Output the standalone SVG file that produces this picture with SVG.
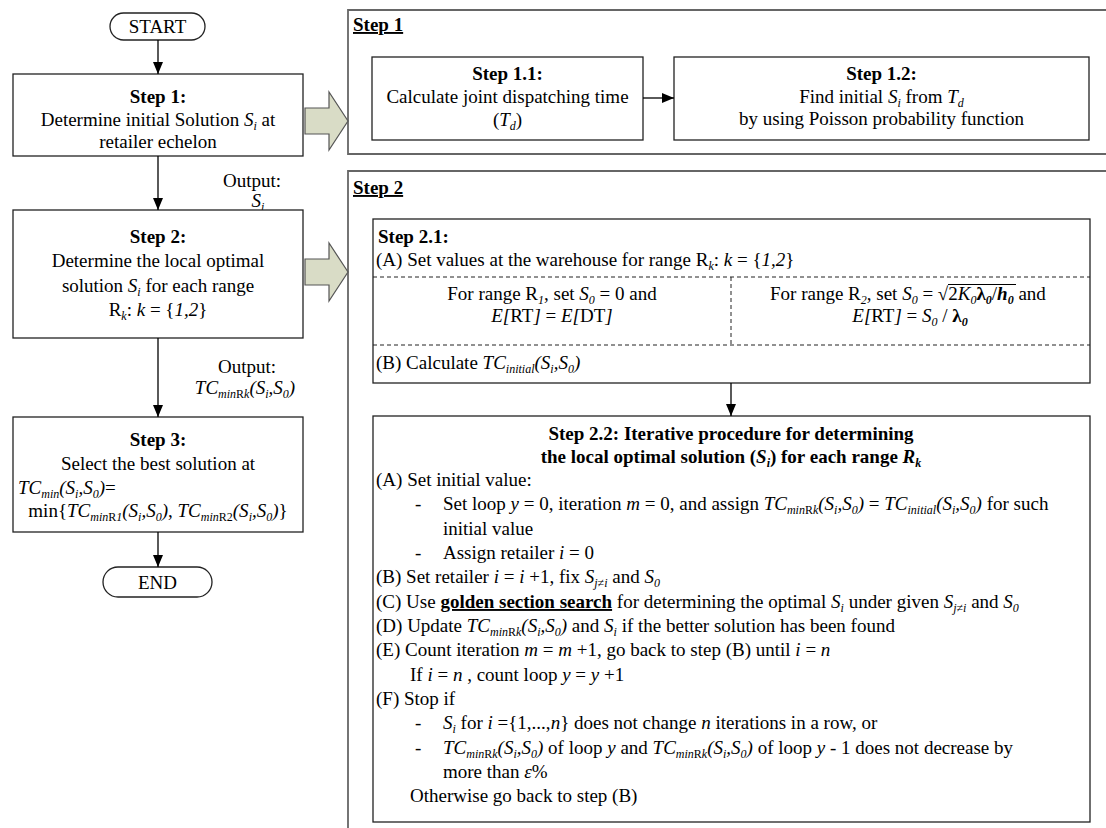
<svg xmlns="http://www.w3.org/2000/svg" width="1106" height="828" viewBox="0 0 1106 828" font-family="'Liberation Serif', 'DejaVu Serif', serif">
<style>
text{font-family:'Liberation Serif','DejaVu Serif',serif;font-size:19px;fill:#000}
.c{text-anchor:middle}
.b{font-weight:bold}
.i{font-style:italic}
.s{font-size:12px}
.u{text-decoration:underline}
.box{fill:#fff;stroke:#222;stroke-width:1.3}
.pnl{fill:none;stroke:#666;stroke-width:1.8}
.dash{stroke:#222;stroke-width:1;stroke-dasharray:4 3;fill:none}
.ln{stroke:#000;stroke-width:1.3;fill:none}
.blk{fill:#d9dcc6;stroke:#555;stroke-width:1.2}
</style>
<defs>
<marker id="ah" viewBox="0 0 12 10" refX="12" refY="5" markerWidth="12" markerHeight="10" markerUnits="userSpaceOnUse" orient="auto"><path d="M0,0 L12,5 L0,10 z" fill="#000"/></marker>
</defs>
<rect width="1106" height="828" fill="#fff"/>

<g id="panel1">
<path class="pnl" d="M1110,10 H348 V154 H1110"/>
<text x="353" y="31" class="b u">Step 1</text>
</g>
<g id="panel2">
<path class="pnl" d="M1110,171 H348 V832"/>
<text x="353" y="194" class="b u">Step 2</text>
</g>

<g id="start">
<rect x="110" y="13" width="95" height="27" rx="13.5" class="box"/>
<text x="157.5" y="33" class="c">START</text>
</g>

<g id="step1">
<rect x="13" y="74" width="290" height="82" class="box"/>
<text x="158" y="103" class="c b">Step 1:</text>
<text x="158" y="126" class="c">Determine initial Solution <tspan class="i">S</tspan><tspan class="s i" dy="4">i</tspan><tspan dy="-4"> at</tspan></text>
<text x="158" y="148" class="c">retailer echelon</text>
</g>

<g id="out1">
<text x="252" y="187" class="c">Output:</text>
<text x="258" y="207" class="c"><tspan class="i">S</tspan><tspan class="s i" dy="4">i</tspan></text>
</g>

<g id="step2">
<rect x="13" y="210" width="290" height="128" class="box"/>
<text x="158" y="243" class="c b">Step 2:</text>
<text x="158" y="267" class="c">Determine the local optimal</text>
<text x="158" y="292" class="c">solution <tspan class="i">S</tspan><tspan class="s i" dy="4">i</tspan><tspan dy="-4"> for each range</tspan></text>
<text x="158" y="316" class="c">R<tspan class="s i" dy="4">k</tspan><tspan dy="-4">: </tspan><tspan class="i">k</tspan> = {<tspan class="i">1,2</tspan>}</text>
</g>

<g id="out2">
<text x="247" y="373" class="c">Output:</text>
<text x="245" y="394" class="c"><tspan class="i">TC</tspan><tspan class="s i" dy="4">min</tspan><tspan class="s">R</tspan><tspan class="s i">k</tspan><tspan class="i" dy="-4">(S</tspan><tspan class="s i" dy="4">i</tspan><tspan class="i" dy="-4">,S</tspan><tspan class="s i" dy="4">0</tspan><tspan class="i" dy="-4">)</tspan></text>
</g>

<g id="step3">
<rect x="13" y="417" width="290" height="115" class="box"/>
<text x="158" y="446" class="c b">Step 3:</text>
<text x="158" y="470" class="c">Select the best solution at</text>
<text x="18" y="494"><tspan class="i">TC</tspan><tspan class="s i" dy="4">min</tspan><tspan class="i" dy="-4">(S</tspan><tspan class="s i" dy="4">i</tspan><tspan class="i" dy="-4">,S</tspan><tspan class="s i" dy="4">0</tspan><tspan class="i" dy="-4">)</tspan>=</text>
<text x="158" y="517" class="c">min{<tspan class="i">TC</tspan><tspan class="s i" dy="4">min</tspan><tspan class="s">R</tspan><tspan class="s i">1</tspan><tspan class="i" dy="-4">(S</tspan><tspan class="s i" dy="4">i</tspan><tspan class="i" dy="-4">,S</tspan><tspan class="s i" dy="4">0</tspan><tspan class="i" dy="-4">)</tspan>, <tspan class="i">TC</tspan><tspan class="s i" dy="4">min</tspan><tspan class="s">R2</tspan><tspan class="i" dy="-4">(S</tspan><tspan class="s i" dy="4">i</tspan><tspan class="i" dy="-4">,S</tspan><tspan class="s i" dy="4">0</tspan><tspan class="i" dy="-4">)</tspan>}</text>
</g>

<g id="end">
<rect x="103" y="567" width="109" height="30" rx="15" class="box"/>
<text x="157.5" y="589" class="c">END</text>
</g>

<g id="step11">
<rect x="372" y="57" width="271" height="83" class="box"/>
<text x="507.5" y="80" class="c b">Step 1.1:</text>
<text x="507.5" y="103" class="c">Calculate joint dispatching time</text>
<text x="507.5" y="126" class="c">(<tspan class="i">T</tspan><tspan class="s i" dy="4">d</tspan><tspan dy="-4">)</tspan></text>
</g>

<g id="step12">
<rect x="674" y="57" width="415" height="83" class="box"/>
<text x="881.5" y="80" class="c b">Step 1.2:</text>
<text x="881.5" y="103" class="c">Find initial <tspan class="i">S</tspan><tspan class="s i" dy="4">i</tspan><tspan dy="-4"> from </tspan><tspan class="i">T</tspan><tspan class="s i" dy="4">d</tspan></text>
<text x="881.5" y="125" class="c">by using Poisson probability function</text>
</g>

<g id="step21">
<rect x="373" y="219" width="717" height="164" class="box"/>
<path class="dash" d="M373,277 H1090 M373,345 H1090 M731,277 V345"/>
<text x="378" y="243" class="b">Step 2.1:</text>
<text x="376" y="266">(A) Set values at the warehouse for range R<tspan class="s i" dy="4">k</tspan><tspan dy="-4">: </tspan><tspan class="i">k</tspan> = {<tspan class="i">1,2</tspan>}</text>
<text x="552" y="300" class="c">For range R<tspan class="s i" dy="4">1</tspan><tspan dy="-4">, set </tspan><tspan class="i">S</tspan><tspan class="s i" dy="4">0</tspan><tspan dy="-4"> = 0 and</tspan></text>
<text x="552" y="322" class="c"><tspan class="i">E[</tspan>RT<tspan class="i">]</tspan> = <tspan class="i">E[</tspan>DT<tspan class="i">]</tspan></text>
<text x="770" y="300">For range R<tspan class="s i" dy="4">2</tspan><tspan dy="-4">, set </tspan><tspan class="i">S</tspan><tspan class="s i" dy="4">0</tspan><tspan dy="-4"> = √2</tspan><tspan class="i">K</tspan><tspan class="s i" dy="4">0</tspan><tspan class="b" dy="-4">λ</tspan><tspan class="s b i" dy="4">0</tspan><tspan dy="-4">/</tspan><tspan class="b i">h</tspan><tspan class="s b i" dy="4">0</tspan><tspan dy="-4"> and</tspan></text>
<path d="M948,284.5 H1016" stroke="#000" stroke-width="1"/>
<text x="910" y="322" class="c"><tspan class="i">E[</tspan>RT<tspan class="i">]</tspan> = <tspan class="i">S</tspan><tspan class="s i" dy="4">0</tspan><tspan dy="-4"> / </tspan><tspan class="b">λ</tspan><tspan class="s b i" dy="4">0</tspan></text>
<text x="376" y="369">(B) Calculate <tspan class="i">TC</tspan><tspan class="s i" dy="4">initial</tspan><tspan class="i" dy="-4">(S</tspan><tspan class="s i" dy="4">i</tspan><tspan class="i" dy="-4">,S</tspan><tspan class="s i" dy="4">0</tspan><tspan class="i" dy="-4">)</tspan></text>
</g>

<g id="step22">
<rect x="373" y="416" width="717" height="406" class="box"/>
<text x="731" y="440" class="c b">Step 2.2: Iterative procedure for determining</text>
<text x="731" y="463" class="c b">the local optimal solution (<tspan class="i">S</tspan><tspan class="s i" dy="4">i</tspan><tspan dy="-4">) for each range </tspan><tspan class="i">R</tspan><tspan class="s i" dy="4">k</tspan></text>
<text x="376" y="486">(A) Set initial value:</text>
<text x="415" y="510">-</text>
<text x="443" y="510">Set loop <tspan class="i">y</tspan> = 0, iteration <tspan class="i">m</tspan> = 0, and assign <tspan class="i">TC</tspan><tspan class="s i" dy="4">min</tspan><tspan class="s">R</tspan><tspan class="s i">k</tspan><tspan class="i" dy="-4">(S</tspan><tspan class="s i" dy="4">i</tspan><tspan class="i" dy="-4">,S</tspan><tspan class="s i" dy="4">0</tspan><tspan class="i" dy="-4">)</tspan> = <tspan class="i">TC</tspan><tspan class="s i" dy="4">initial</tspan><tspan class="i" dy="-4">(S</tspan><tspan class="s i" dy="4">i</tspan><tspan class="i" dy="-4">,S</tspan><tspan class="s i" dy="4">0</tspan><tspan class="i" dy="-4">)</tspan> for such</text>
<text x="443" y="535">initial value</text>
<text x="415" y="559">-</text>
<text x="443" y="559">Assign retailer <tspan class="i">i</tspan> = 0</text>
<text x="376" y="583">(B) Set retailer <tspan class="i">i</tspan> = <tspan class="i">i</tspan> +1, fix <tspan class="i">S</tspan><tspan class="s i" dy="4">j≠i</tspan><tspan dy="-4"> and </tspan><tspan class="i">S</tspan><tspan class="s i" dy="4">0</tspan></text>
<text x="376" y="608">(C) Use <tspan class="b u">golden section search</tspan> for determining the optimal <tspan class="i">S</tspan><tspan class="s i" dy="4">i</tspan><tspan dy="-4"> under given </tspan><tspan class="i">S</tspan><tspan class="s i" dy="4">j≠i</tspan><tspan dy="-4"> and </tspan><tspan class="i">S</tspan><tspan class="s i" dy="4">0</tspan></text>
<text x="376" y="632">(D) Update <tspan class="i">TC</tspan><tspan class="s i" dy="4">min</tspan><tspan class="s">R</tspan><tspan class="s i">k</tspan><tspan class="i" dy="-4">(S</tspan><tspan class="s i" dy="4">i</tspan><tspan class="i" dy="-4">,S</tspan><tspan class="s i" dy="4">0</tspan><tspan class="i" dy="-4">)</tspan> and <tspan class="i">S</tspan><tspan class="s i" dy="4">i</tspan><tspan dy="-4">  if the better solution has been found</tspan></text>
<text x="376" y="656">(E) Count iteration <tspan class="i">m</tspan> = <tspan class="i">m</tspan> +1, go back to step (B) until <tspan class="i">i</tspan> = <tspan class="i">n</tspan></text>
<text x="410" y="681">If <tspan class="i">i</tspan> = <tspan class="i">n</tspan> , count loop <tspan class="i">y</tspan> = <tspan class="i">y</tspan> +1</text>
<text x="376" y="705">(F) Stop if</text>
<text x="415" y="729">-</text>
<text x="443" y="729"><tspan class="i">S</tspan><tspan class="s i" dy="4">i</tspan><tspan dy="-4"> for </tspan><tspan class="i">i</tspan> ={1,...,<tspan class="i">n</tspan>} does not change <tspan class="i">n</tspan> iterations in a row, or</text>
<text x="415" y="754">-</text>
<text x="443" y="754"><tspan class="i">TC</tspan><tspan class="s i" dy="4">min</tspan><tspan class="s">R</tspan><tspan class="s i">k</tspan><tspan class="i" dy="-4">(S</tspan><tspan class="s i" dy="4">i</tspan><tspan class="i" dy="-4">,S</tspan><tspan class="s i" dy="4">0</tspan><tspan class="i" dy="-4">)</tspan> of loop <tspan class="i">y</tspan> and <tspan class="i">TC</tspan><tspan class="s i" dy="4">min</tspan><tspan class="s">R</tspan><tspan class="s i">k</tspan><tspan class="i" dy="-4">(S</tspan><tspan class="s i" dy="4">i</tspan><tspan class="i" dy="-4">,S</tspan><tspan class="s i" dy="4">0</tspan><tspan class="i" dy="-4">)</tspan> of loop <tspan class="i">y</tspan> - 1 does not decrease by</text>
<text x="443" y="778">more than <tspan class="i">ε</tspan>%</text>
<text x="410" y="802">Otherwise go back to step (B)</text>
</g>

<g id="connectors">
<path class="ln" d="M158,40 V74" marker-end="url(#ah)"/>
<path class="ln" d="M158,156 V210" marker-end="url(#ah)"/>
<path class="ln" d="M158,338 V417" marker-end="url(#ah)"/>
<path class="ln" d="M158,532 V567" marker-end="url(#ah)"/>
<path class="ln" d="M643,98 H674" marker-end="url(#ah)"/>
<path class="ln" d="M731,383 V416" marker-end="url(#ah)"/>
<path class="blk" d="M305,108 H329 V92 L348,121 L329,150 V134 H305 Z"/>
<path class="blk" d="M305,259 H329 V243 L348,272 L329,301 V285 H305 Z"/>
</g>
</svg>
